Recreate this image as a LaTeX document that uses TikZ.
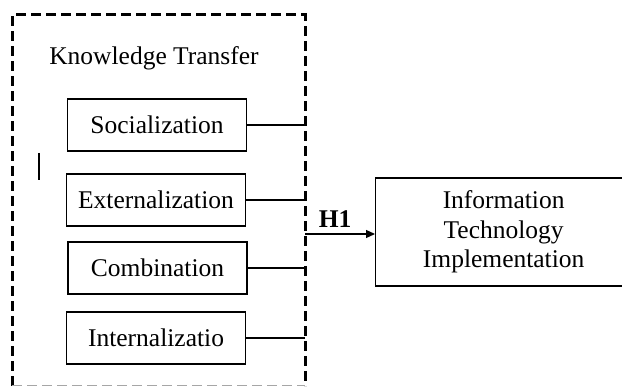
\documentclass[tikz,border=0pt]{standalone}
\usepackage{fontspec}
\setmainfont{Liberation Serif}
\usetikzlibrary{arrows.meta,positioning}
\begin{document}
\begin{tikzpicture}[x=1pt,y=-1pt,
	dim/.style={draw,line width=1.3pt,minimum width=179pt,minimum height=52pt,inner sep=0pt,font=\fontsize{25.5}{29.5}\selectfont},
	link/.style={line width=1.2pt},
	frame/.style={line width=3pt,dash pattern=on 10pt off 5pt}]
	\useasboundingbox (0,0) rectangle (622,387);

	\node[anchor=base,font=\fontsize{25.5}{29.5}\selectfont] (kt) at (154,65) {Knowledge Transfer};
	\node[dim] (soc) at (157,125) {Socialization};
	\node[dim] (ext) at (156,200) {Externalization};
	\node[dim] (com) at (157.5,268) {Combination};
	\node[dim] (int) at (156,338) {Internalizatio};
	% right side of this box runs off the page
	\node[dim, anchor=west, minimum height=108pt] (itimp) at (375,232) {\parbox{256pt}{\centering Information\\Technology\\Implementation}\hspace*{60pt}};

	% dashed frame round the four dimensions
	\draw[frame] (12,386) -- (12,15) -- (305,15) -- (305,386);
	\draw[line width=1.6pt,gray!70,dash pattern=on 10pt off 5pt] (12,385.5) -- (305,385.5);
	\draw[line width=1.3pt] (39,153) -- (39,180);

	\coordinate (join) at (305,234);
	\foreach \d in {soc,ext,com,int}
		\draw[link] (\d.east) -- (\d.east -| join);
	\draw[link,-{Triangle[length=9pt,width=8pt]}] (join) -- node[above,pos=0.43,yshift=3pt,font=\fontsize{25.5}{29.5}\selectfont\bfseries] {H1} (join -| itimp.west);

\end{tikzpicture}
\end{document}
